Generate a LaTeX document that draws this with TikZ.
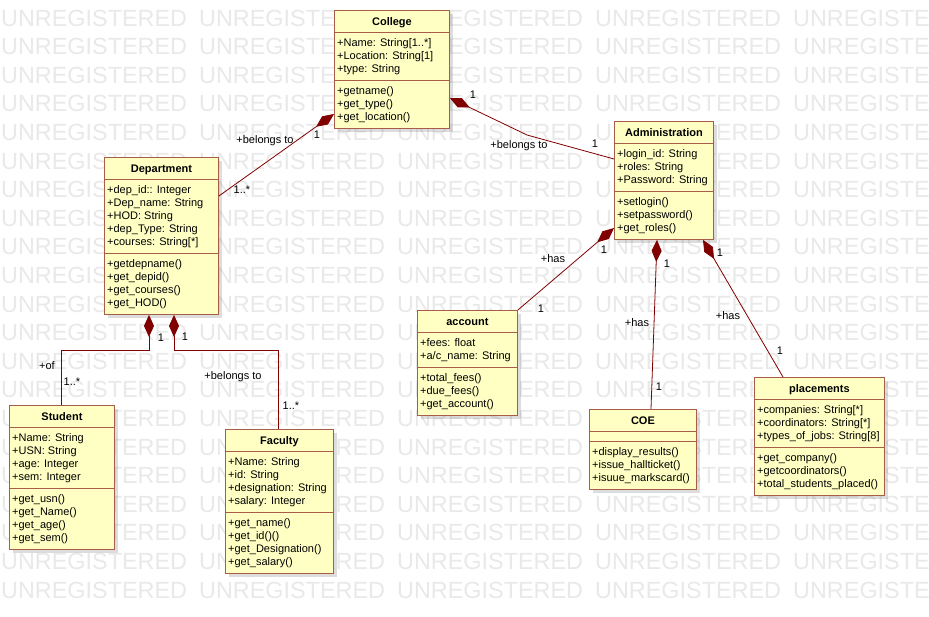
\documentclass[tikz,border=0pt]{standalone}
\usepackage{fontspec}
\setmainfont{Liberation Sans}
\usetikzlibrary{calc,arrows.meta,shadows}

\definecolor{boxfill}{RGB}{255,255,196}
\definecolor{boxline}{RGB}{168,92,74}
\definecolor{assoc}{RGB}{128,0,0}
\definecolor{wmgray}{RGB}{233,233,233}

\tikzset{
  classbox/.style={draw=boxline, fill=boxfill, line width=0.9pt, inner sep=0pt,
    drop shadow={shadow xshift=4pt, shadow yshift=-4pt, opacity=0.22, fill=black!60}},
  divider/.style={draw=boxline, line width=0.9pt},
  classtitle/.style={font=\fontsize{11}{13}\selectfont\bfseries, inner sep=0pt, anchor=base},
  member/.style={font=\fontsize{11}{13}\selectfont, inner sep=0pt, anchor=base west},
  comp/.style={draw=assoc, line width=0.8pt, {Diamond[length=22pt,width=10pt,fill=assoc]}-},
  lbl/.style={font=\fontsize{11}{13}\selectfont, inner sep=0pt, text=black},
  wm/.style={font=\fontsize{23.4}{26}\selectfont, text=wmgray, inner sep=0pt, anchor=west},
}

% UML class: name, left, top, width, #attributes, #operations, title, attributes, operations
\newcommand\umlclass[9]{%
  \pgfmathsetmacro\hA{#5==0 ? 10 : 13*#5+9}%
  \pgfmathsetmacro\hO{13*#6+9}%
  \pgfmathsetmacro\hT{22+\hA+\hO}%
  \node[classbox, minimum width=#4pt, minimum height=\hT pt, anchor=north west] (#1) at (#2,#3) {};
  \draw[divider] ($(#1.north west)+(0,22)$) -- ($(#1.north east)+(0,22)$);
  \draw[divider] ($(#1.north west)+(0,22+\hA)$) -- ($(#1.north east)+(0,22+\hA)$);
  \node[classtitle] (#1-title) at ($(#1.north)+(0,15)$) {#7};
  \ifnum#5>0
    \foreach \t [count=\i] in {#8}
      \node[member] (#1-a\i) at ($(#1.north west)+(3,22+14.5+13*\i-13)$) {\t};
  \fi
  \foreach \t [count=\i] in {#9}
    \node[member] (#1-o\i) at ($(#1.north west)+(3,22+\hA+14.5+13*\i-13)$) {\t};
}

\begin{document}
\begin{tikzpicture}[x=1pt, y=-1pt]
  \useasboundingbox (0,0) rectangle (929,616);
  \clip (0,0) rectangle (929,616);
  \fill[white] (0,0) rectangle (929,616);

  % background lettering
  \foreach \r in {0,...,20}
    \foreach \c in {0,...,4}
      \node[wm] (wm-\r-\c) at (1+\c*198, 18+\r*28.6) {UNREGISTERED};

  % classes
  \umlclass{college}{334}{10}{115}{3}{3}{College}
    {{+Name: String[1..*]},{+Location: String[1]},{+type: String}}
    {{+getname()},{+get\_type()},{+get\_location()}}
  \umlclass{dept}{104}{157}{114}{5}{4}{Department}
    {{+dep\_id:: Integer},{+Dep\_name: String},{+HOD: String},{+dep\_Type: String},{+courses: String[*]}}
    {{+getdepname()},{+get\_depid()},{+get\_courses()},{+get\_HOD()}}
  \umlclass{admin}{614}{121}{99}{3}{3}{Administration}
    {{+login\_id: String},{+roles: String},{+Password: String}}
    {{+setlogin()},{+setpassword()},{+get\_roles()}}
  \umlclass{account}{417}{310}{100}{2}{3}{account}
    {{+fees: float},{+a/c\_name: String}}
    {{+total\_fees()},{+due\_fees()},{+get\_account()}}
  \umlclass{student}{9}{405}{105}{4}{4}{Student}
    {{+Name: String},{+USN: String},{+age: Integer},{+sem: Integer}}
    {{+get\_usn()},{+get\_Name()},{+get\_age()},{+get\_sem()}}
  \umlclass{faculty}{225}{429}{108}{4}{4}{Faculty}
    {{+Name: String},{+id: String},{+designation: String},{+salary: Integer}}
    {{+get\_name()},{+get\_id()()},{+get\_Designation()},{+get\_salary()}}
  \umlclass{coe}{589}{409}{107}{0}{3}{COE}
    {}
    {{+display\_results()},{+issue\_hallticket()},{+isuue\_markscard()}}
  \umlclass{placements}{754}{377}{130}{3}{3}{placements}
    {{+companies: String[*]},{+coordinators: String[*]},{+types\_of\_jobs: String[8]}}
    {{+get\_company()},{+getcoordinators()},{+total\_students\_placed()}}

  % compositions
  \draw[comp] ($(college.north west)+(0,104)$) -- ($(dept.north east)+(0,39)$);
  \coordinate (collegeBend) at (527,135);
  \draw[comp] ($(college.north east)+(0,88)$) -- (collegeBend) -- ($(admin.north west)+(0,38)$);
  \draw[comp] ($(dept.south west)+(45,0)$) -- ++(0,35) -| ($(student.north west)+(52,0)$);
  \draw[comp] ($(dept.south west)+(70,0)$) -- ++(0,35) -| ($(faculty.north west)+(53,0)$);
  \draw[comp] ($(admin.north west)+(0,107)$) -- (account.north east);
  \draw[comp] ($(admin.south west)+(43,0)$) -- ($(coe.north west)+(62,0)$);
  \draw[comp] ($(admin.south west)+(89,0)$) -- ($(placements.north west)+(29,0)$);

  % role names and multiplicities
  \node[lbl] (r1) at (265,141) {+belongs to};
  \node[lbl] (m1a) at (317,135) {1};
  \node[lbl] (m1b) at (242,190) {1..*};
  \node[lbl] (m2a) at (473,95) {1};
  \node[lbl] (r2) at (519,146) {+belongs to};
  \node[lbl] (m2b) at (595,144) {1};
  \node[lbl] (m3a) at (161,338) {1};
  \node[lbl] (r3) at (47,366) {+of};
  \node[lbl] (m3b) at (72,382) {1..*};
  \node[lbl] (m4a) at (185,337) {1};
  \node[lbl] (r4) at (233,377) {+belongs to};
  \node[lbl] (m4b) at (291,406) {1..*};
  \node[lbl] (r5) at (553,259) {+has};
  \node[lbl] (m5a) at (604,250) {1};
  \node[lbl] (m5b) at (541,309) {1};
  \node[lbl] (m6a) at (667,264) {1};
  \node[lbl] (r6) at (637,323) {+has};
  \node[lbl] (m6b) at (659,387) {1};
  \node[lbl] (m7a) at (720,253) {1};
  \node[lbl] (r7) at (728,316) {+has};
  \node[lbl] (m7b) at (780,351) {1};
\end{tikzpicture}
\end{document}
